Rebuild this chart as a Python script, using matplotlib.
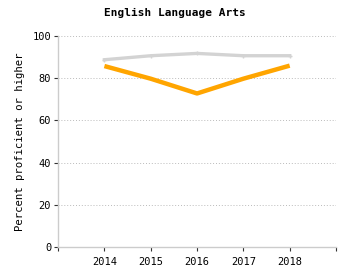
import matplotlib.pyplot as plt

plt.rcParams['font.family'] = 'DejaVu Sans Mono'

years = [2014, 2015, 2016, 2017, 2018]
state = [88.8, 90.7, 91.8, 90.7, 90.7]
school = [85.8, 79.8, 72.8, 79.8, 86.0]

fig = plt.figure(figsize=(3.5, 2.8), dpi=100)
ax = fig.add_axes([0.166, 0.118, 0.794, 0.753])

ax.plot(years, state, color='#d3d3d3', lw=2.4, marker='+', ms=3, mew=1, zorder=3)
ax.plot(years, school, color='#ffa500', lw=3.2, solid_capstyle='butt', zorder=4)

ax.set_xlim(2013, 2019)
ax.set_ylim(0, 100)
ax.set_xticks([2013] + years + [2019])
ax.set_xticklabels([''] + [str(y) for y in years] + [''])
ax.set_yticks([0, 20, 40, 60, 80, 100])
ax.yaxis.grid(True, linestyle=(0, (1, 2)), color='#bbbbbb', lw=0.7)
ax.set_axisbelow(True)

for s in ['top', 'right']:
    ax.spines[s].set_visible(False)
for s in ['left', 'bottom']:
    ax.spines[s].set_color('#cccccc')
    ax.spines[s].set_linewidth(1)

ax.tick_params(axis='both', labelsize=7.5, length=3, width=0.8, color='#333333', pad=2)
ax.tick_params(axis='x', pad=4)

ax.set_ylabel('Percent proficient or higher', fontsize=7.7, labelpad=5)
fig.text(0.5, 1 - 13 / 280, 'English Language Arts', fontsize=8, fontweight='bold',
         ha='center', va='center')

fig.savefig('out.png', dpi=100)
